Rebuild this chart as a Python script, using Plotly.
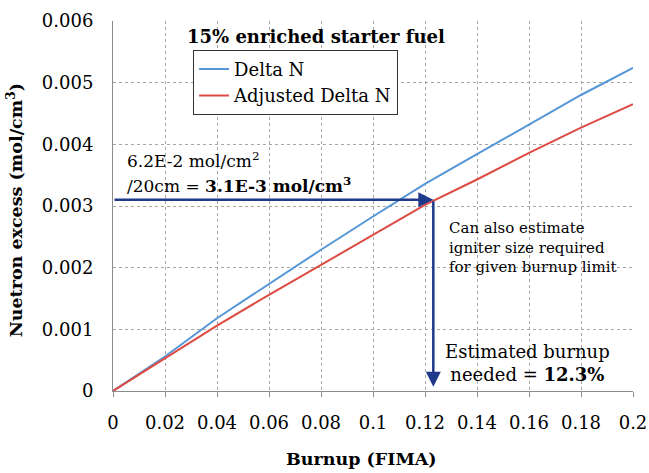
import plotly.graph_objects as go

# Data
burnup = [0, 0.02, 0.04, 0.06, 0.08, 0.10, 0.12, 0.14, 0.16, 0.18, 0.20]
delta_n = [0, 0.00056, 0.00118, 0.00174, 0.00229, 0.00283, 0.00336, 0.00384, 0.00432, 0.00480, 0.00524]
adj_delta_n = [0, 0.00053, 0.00106, 0.00156, 0.00204, 0.00253, 0.00302, 0.00343, 0.00386, 0.00427, 0.00465]

x_ticks = [0, 0.02, 0.04, 0.06, 0.08, 0.1, 0.12, 0.14, 0.16, 0.18, 0.2]
x_labels = ["0", "0.02", "0.04", "0.06", "0.08", "0.1", "0.12", "0.14", "0.16", "0.18", "0.2"]
y_ticks = [0, 0.001, 0.002, 0.003, 0.004, 0.005, 0.006]
y_labels = ["0", "0.001", "0.002", "0.003", "0.004", "0.005", "0.006"]

target_excess = 0.0031
target_burnup = 0.1232

FONT = "DejaVu Serif"
NAVY = "#1f3a8a"

fig = go.Figure()
fig.add_trace(go.Scatter(x=burnup, y=delta_n, mode="lines", name="Delta N",
                         line=dict(color="#5596d6", width=2)))
fig.add_trace(go.Scatter(x=burnup, y=adj_delta_n, mode="lines", name="Adjusted Delta N",
                         line=dict(color="#dd4b43", width=2)))

# Horizontal arrow
fig.add_annotation(x=target_burnup, y=target_excess, ax=0, ay=target_excess,
                   xref="x", yref="y", axref="x", ayref="y", text="",
                   showarrow=True, arrowhead=2, arrowsize=1.2, arrowwidth=2.5,
                   arrowcolor=NAVY)
# Vertical arrow
fig.add_annotation(x=target_burnup, y=0.00007, ax=target_burnup, ay=target_excess,
                   xref="x", yref="y", axref="x", ayref="y", text="",
                   showarrow=True, arrowhead=2, arrowsize=1.2, arrowwidth=2.5,
                   arrowcolor=NAVY)

fig.add_annotation(x=0.5, y=1.0, xref="paper", yref="paper", xanchor="center", yanchor="top",
                   xshift=-57, yshift=-3,
                   text="<b>15% enriched starter fuel</b>", showarrow=False,
                   font=dict(family=FONT, size=18, color="black"))

fig.add_annotation(x=0.0048, y=0.00374, xref="x", yref="y", xanchor="left", yanchor="middle",
                   text="6.2E-2 mol/cm<sup>2</sup>", showarrow=False,
                   font=dict(family=FONT, size=17, color="black"))
fig.add_annotation(x=0.0048, y=0.00334, xref="x", yref="y", xanchor="left", yanchor="middle",
                   text="/20cm = <b>3.1E-3 mol/cm<sup>3</sup></b>", showarrow=False,
                   font=dict(family=FONT, size=17, color="black"))

fig.add_annotation(x=0.1286, y=0.00232, xref="x", yref="y", xanchor="left", yanchor="middle",
                   align="left",
                   text="Can also estimate<br>igniter size required<br>for given burnup limit",
                   showarrow=False, font=dict(family=FONT, size=15, color="black"))

fig.add_annotation(x=0.1596, y=0.00045, xref="x", yref="y", xanchor="center", yanchor="middle",
                   align="center",
                   text="Estimated burnup<br>needed = <b>12.3%</b>",
                   showarrow=False, font=dict(family=FONT, size=18, color="black"))

# Axis titles as annotations (positioned like the reference)
fig.add_annotation(x=0.477, y=0, xref="paper", yref="paper", xanchor="center", yanchor="middle",
                   yshift=-68, text="<b>Burnup (FIMA)</b>", showarrow=False,
                   font=dict(family=FONT, size=17.5, color="black"))
fig.add_annotation(x=-0.19, y=0.489, xref="paper", yref="paper", xanchor="center", yanchor="middle",
                   textangle=-90, text="<b>Nuetron excess (mol/cm<sup>3</sup>)</b>", showarrow=False,
                   font=dict(family=FONT, size=17.5, color="black"))

axis_common = dict(showgrid=True, gridcolor="#a6a6a6", griddash="dot", gridwidth=1,
                   showline=True, linecolor="#8c8c8c", linewidth=1, automargin=False,
                   zeroline=False, tickfont=dict(family=FONT, size=18, color="black"))

fig.update_xaxes(range=[0, 0.2], tickvals=x_ticks, ticktext=x_labels,
                 ticks="outside", tickcolor="#8c8c8c", ticklen=5,
                 ticklabelstandoff=10, **axis_common)
fig.update_yaxes(range=[0, 0.006], tickvals=y_ticks, ticktext=y_labels,
                 ticks="outside", tickcolor="rgba(0,0,0,0)", ticklen=15,
                 **axis_common)

fig.update_layout(
    template="none",
    width=649, height=473,
    margin=dict(l=113, r=16, t=21, b=82),
    paper_bgcolor="white", plot_bgcolor="white",
    showlegend=True,
    legend=dict(x=0.154, y=0.922, xanchor="left", yanchor="top",
                bgcolor="white", bordercolor="#333333", borderwidth=1,
                font=dict(family=FONT, size=18, color="black"),
                itemwidth=30, tracegroupgap=0),
)

fig.write_html("out.html")
